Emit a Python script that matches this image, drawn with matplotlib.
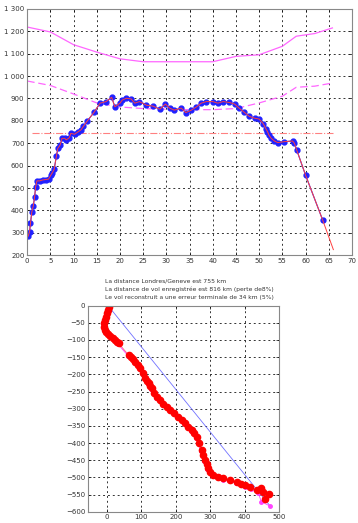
import matplotlib
matplotlib.use('Agg')
import matplotlib.pyplot as plt
from matplotlib.ticker import FuncFormatter
import numpy as np

# vitesse sol (blue points) vs temps
t = [0.2, 0.5, 0.7, 1.0, 1.3, 1.6, 1.8, 2.1, 2.7, 3.3, 4.0, 4.6, 5.1, 5.4, 5.8, 6.3, 6.6, 7.1, 7.5,
     8.1, 8.4, 9.1, 9.4, 10.2, 10.9, 11.6, 12.1, 12.9, 14.4, 15.7, 17.0, 18.2, 18.9, 20.0, 20.5, 21.4,
     22.4, 23.2, 24.2, 25.7, 27.1, 28.6, 29.8, 30.7, 31.7, 33.2, 34.2, 35.3, 36.4, 37.5, 38.6, 40.0,
     41.1, 42.2, 43.6, 44.7, 45.7, 46.8, 47.9, 49.0, 50.0, 50.9, 51.5, 51.8, 52.1, 52.6, 53.3, 54.0, 55.4,
     57.2, 57.6, 58.1, 60.0, 63.7]
v = [285, 304, 342, 394, 419, 461, 503, 532, 532, 536, 538, 540, 558, 568, 583, 643, 677, 692, 722,
     722, 715, 725, 744, 740, 750, 760, 775, 798, 838, 879, 886, 905, 863, 879, 893, 901,
     898, 879, 886, 870, 866, 852, 875, 857, 848, 857, 837, 847, 861, 879, 886, 886,
     879, 886, 882, 875, 857, 838, 820, 812, 808, 787, 763, 752, 737, 722, 710, 703,
     707, 710, 700, 670, 558, 357]
# red model line
t_mod = t + [66.0]
v_mod = v + [225]
# envelopes
t_env = [0, 5, 10, 15, 20, 25, 30, 35, 40, 45, 50, 55, 58, 62, 65.8]
v_env_hi = [1219, 1197, 1140, 1107, 1077, 1064, 1064, 1064, 1064, 1088, 1095, 1133, 1178, 1190, 1215]
v_env_lo = [978, 958, 920, 880, 862, 855, 852, 850, 850, 855, 880, 910, 950, 955, 969]
v_ref = 745

# trajectoire (km)
x_rec = [4.6, 2, 0, -4, -7, -9, -10, -7, -3, 3, 10, 17, 24, 30, 34,
         63, 70, 76, 82, 90, 97, 104, 111, 116, 121, 126, 130, 138, 145, 155, 164, 174, 183, 195,
         208, 218, 227, 236, 246, 254, 261, 268, 275, 280, 285, 290, 294, 300, 309, 322, 338, 358,
         377, 390, 401, 415, 435, 449, 454, 471, 459]
y_rec = [-3, -12, -22, -32, -42, -52, -61, -70, -78, -82, -87, -93, -100, -106, -110,
         -144, -150, -156, -163, -172, -182, -197, -212, -219, -226, -234, -241, -253, -265, -275,
         -285, -295, -304, -314, -324, -334, -343, -352, -362, -372, -382, -400, -421, -436, -450,
         -462, -474, -484, -494, -499, -503, -508, -513, -518, -523, -528, -537, -532, -542, -549, -564]
x_rec2 = [4, -1, -8, -10, -5, 9, 23, 33, 62, 81, 96, 110, 120, 129, 144, 163, 182, 207, 226, 245,
          260, 273, 283, 292, 307, 337, 376, 400, 420, 440, 449, 475]
y_rec2 = [-5, -25, -45, -63, -78, -89, -102, -113, -147, -166, -185, -215, -229, -244, -268, -288,
          -307, -327, -346, -366, -386, -424, -453, -477, -497, -507, -517, -527, -535, -545, -571, -584]
x_direct = [8, 475]
y_direct = [-6, -584]

lines = ['La distance Londres/Geneve est 755 km',
         'La distance de vol enregistrée est 816 km (perte de8%)',
         'Le vol reconstruit a une erreur terminale de 34 km (5%)']

plt.rcParams['font.size'] = 5
fig = plt.figure(figsize=(3.58, 5.23), dpi=100)

def style(ax):
    ax.grid(True, color='#333333', linestyle=(0, (2, 3)), linewidth=0.7)
    ax.tick_params(direction='in', length=2, width=0.5, top=True, right=True,
                   labelsize=5, labelcolor='#333333', pad=2)
    for s in ax.spines.values():
        s.set_color('#888888')
        s.set_linewidth(0.8)

ax1 = fig.add_axes([0.076, 0.512, 0.907, 0.471])
ax1.plot(t_env, v_env_hi, color='#ff66ff', lw=0.9)
ax1.plot(t_env, v_env_lo, color='#ff66ff', lw=0.9, ls=(0, (6, 3)))
ax1.plot([1, 66], [v_ref, v_ref], color='#ff8080', lw=0.8, ls='-.')
ax1.plot(t, v, color='#2020ff', lw=0.8, marker='o', ms=3.5, mec='#2020ff', mfc='#2020ff')
ax1.plot(t_mod, v_mod, color='#ff4040', lw=0.7)
ax1.set_xlim(0, 70)
ax1.set_ylim(200, 1300)
ax1.set_xticks(np.arange(0, 71, 5))
ax1.set_yticks(np.arange(200, 1301, 100))
ax1.yaxis.set_major_formatter(FuncFormatter(lambda y, p: f'{int(y):,}'.replace(',', ' ')))
style(ax1)

for i, s in enumerate(lines):
    fig.text(0.293, 1 - (281 + 8 * i) / 523, s, fontsize=4.3, color='#333333', va='center')

ax2 = fig.add_axes([0.246, 0.0216, 0.533, 0.394])
ax2.plot(x_direct, y_direct, color='#7070ff', lw=0.6)
ax2.plot(x_rec2, y_rec2, color='#ff44ff', lw=0.6, marker='o', ms=2.5, mec='#ff44ff', mfc='#ff44ff')
ax2.plot(x_rec, y_rec, color='#ff6080', lw=0.6, marker='o', ms=4.5, mec='#ff0000', mfc='#ff0000')
ax2.set_xlim(-55, 500)
ax2.set_ylim(-600, 0)
ax2.set_xticks(np.arange(0, 501, 100))
ax2.set_yticks(np.arange(-600, 1, 50))
style(ax2)

fig.savefig('out.png', dpi=100)
